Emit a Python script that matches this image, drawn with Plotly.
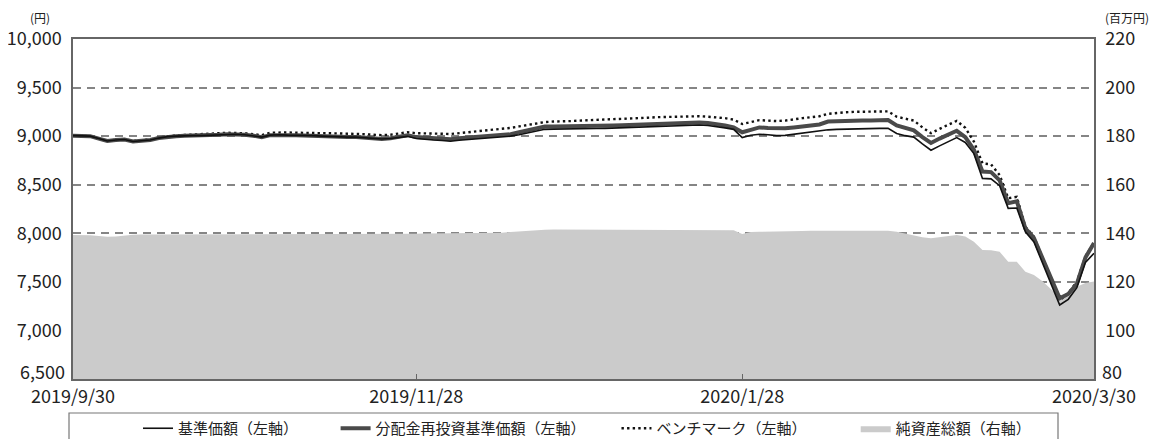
import pandas as pd
import plotly.graph_objects as go

# ---- categories: Japanese business days 2019/9/30 - 2020/3/30 ----
holidays = ["2019-10-14", "2019-10-22", "2019-11-04", "2019-12-31", "2020-01-01",
            "2020-01-02", "2020-01-03", "2020-01-13", "2020-02-11", "2020-02-24", "2020-03-20"]
_days = [d for d in pd.bdate_range("2019-09-30", "2020-03-30") if d.strftime("%Y-%m-%d") not in holidays]
dates = [f"{d.year}/{d.month}/{d.day}" for d in _days]

tick_labels = ["2019/9/30", "2019/11/28", "2020/1/28", "2020/3/30"]
left_ticks = [7000, 7500, 8000, 8500, 9000, 9500, 10000]
right_ticks = [100, 120, 140, 160, 180, 200, 220]

# 基準価額 (left axis, 円)
nav = [9005, 9005, 9000, 8975, 8950, 8960, 8965, 8945, 8950, 8960,
       8980, 8995, 9000, 9005, 9005, 9005, 9010, 9015, 9020, 9020,
       9015, 9005, 8990, 9010, 9015, 9010, 9010, 9005, 9005, 9000,
       8995, 8990, 8990, 8990, 8985, 8975, 8970, 8975, 8990, 8998,
       8975, 8965, 8960, 8955, 8948, 8958, 8965, 8972, 8978, 8985,
       8990, 9000, 9015, 9035, 9055, 9070, 9072, 9072, 9075, 9075,
       9076, 9078, 9080, 9083, 9086, 9090, 9093, 9100, 9103, 9106,
       9110, 9113, 9115, 9115, 9110, 9100, 9085, 9070, 8985, 9010,
       9020, 9015, 9005, 9008, 9020, 9030, 9040, 9050, 9065, 9070,
       9073, 9075, 9078, 9078, 9080, 9080, 9028, 9005, 8990, 8920,
       8855, 8900, 8940, 8985, 8935, 8820, 8565, 8560, 8490, 8257,
       8260, 8015, 7910, 7700, 7480, 7262, 7320, 7440, 7700, 7795]

# 分配金再投資基準価額 (left axis, 円)
nav_reinv = [9005, 9005, 9000, 8975, 8950, 8960, 8965, 8945, 8950, 8960,
             8980, 8995, 9000, 9005, 9005, 9005, 9010, 9015, 9020, 9020,
             9015, 9005, 8990, 9010, 9015, 9010, 9010, 9005, 9005, 9000,
             8995, 8990, 8990, 8990, 8985, 8975, 8970, 8978, 8998, 9010,
             8990, 8985, 8980, 8975, 8968, 8978, 8985, 8990, 8995, 9000,
             9005, 9020, 9040, 9060, 9080, 9100, 9100, 9100, 9100, 9102,
             9102, 9105, 9105, 9110, 9112, 9115, 9118, 9125, 9128, 9132,
             9135, 9138, 9140, 9140, 9135, 9125, 9110, 9090, 9040, 9065,
             9090, 9085, 9080, 9082, 9090, 9100, 9110, 9120, 9150, 9155,
             9158, 9160, 9162, 9162, 9165, 9165, 9110, 9085, 9060, 8990,
             8930, 8975, 9015, 9055, 8990, 8860, 8635, 8630, 8545, 8310,
             8330, 8050, 7950, 7740, 7540, 7330, 7375, 7480, 7750, 7900]

# ベンチマーク (left axis, 円)
benchmark = [9005, 9005, 9000, 8975, 8952, 8962, 8968, 8950, 8955, 8965,
             8985, 9000, 9008, 9012, 9015, 9020, 9025, 9030, 9035, 9035,
             9030, 9020, 9010, 9035, 9040, 9038, 9035, 9035, 9032, 9030,
             9030, 9028, 9025, 9025, 9020, 9015, 9010, 9015, 9030, 9040,
             9030, 9030, 9028, 9025, 9022, 9030, 9040, 9050, 9055, 9062,
             9070, 9085, 9100, 9115, 9130, 9145, 9150, 9150, 9155, 9160,
             9162, 9165, 9170, 9175, 9178, 9180, 9185, 9190, 9195, 9198,
             9200, 9203, 9205, 9205, 9200, 9195, 9185, 9170, 9125, 9145,
             9165, 9160, 9155, 9160, 9175, 9185, 9195, 9205, 9230, 9240,
             9245, 9250, 9252, 9252, 9255, 9255, 9200, 9180, 9160, 9090,
             9030, 9075, 9115, 9158, 9085, 8945, 8720, 8710, 8600, 8360,
             8375, 8068, 7965, 7740, 7530, 7310, 7385, 7500, 7765, 7905]

# 純資産総額 (right axis, 百万円)
net_assets = [139.3, 139.3, 139.2, 138.9, 138.6, 138.7, 139.2, 139.4, 139.5, 139.5,
              139.6, 139.6, 139.6, 139.6, 139.6, 139.6, 139.6, 139.7, 139.7, 139.6,
              139.6, 139.5, 139.5, 139.6, 139.6, 139.6, 139.6, 139.6, 139.6, 139.6,
              139.6, 139.6, 139.6, 139.6, 139.6, 139.6, 139.6, 139.7, 139.8, 139.8,
              139.8, 139.9, 139.9, 139.9, 140.0, 140.0, 140.0, 140.0, 140.0, 140.1,
              140.2, 140.5, 140.8, 141.1, 141.3, 141.5, 141.6, 141.6, 141.6, 141.6,
              141.6, 141.6, 141.6, 141.6, 141.6, 141.6, 141.6, 141.6, 141.6, 141.6,
              141.6, 141.6, 141.6, 141.6, 141.6, 141.6, 141.5, 141.3, 139.7, 140.5,
              140.6, 140.6, 140.6, 140.6, 140.7, 140.9, 141.0, 141.0, 141.0, 141.0,
              141.0, 141.0, 141.0, 141.0, 141.0, 141.0, 140.6, 139.9, 139.0, 138.4,
              138.0, 138.5, 139.0, 139.3, 138.7, 136.5, 133.1, 133.0, 132.4, 128.3,
              128.3, 124.2, 122.8, 120.2, 117.0, 113.9, 115.3, 118.0, 119.5, 120.1]

names = ["基準価額（左軸）", "分配金再投資基準価額（左軸）", "ベンチマーク（左軸）", "純資産総額（右軸）"]

FONT = "Noto Sans CJK JP"
TXT = "#222222"
GRID = "#858585"
FRAME = "#666666"
SP = "\u3000"
NB = "\u00a0"

fig = go.Figure()

# area on base axis (right side) so it is drawn beneath the lines
fig.add_trace(go.Scatter(x=dates, y=net_assets, name=names[3], mode="lines",
                         fill="tozeroy", fillcolor="#cbcbcb", line=dict(width=0, color="#cbcbcb"),
                         yaxis="y"))
fig.add_trace(go.Scatter(x=dates, y=benchmark, name=names[2] + SP * 3 + NB * 2, mode="lines",
                         line=dict(color="#111111", width=2.4, dash="2.4px,3.2px"), yaxis="y2"))
fig.add_trace(go.Scatter(x=dates, y=nav_reinv, name=names[1] + SP * 2 + NB, mode="lines",
                         line=dict(color="#4a4a4a", width=4), yaxis="y2"))
fig.add_trace(go.Scatter(x=dates, y=nav, name=names[0] + SP * 2 + NB * 3, mode="lines",
                         line=dict(color="#111111", width=1.6), yaxis="y2"))

# page is rendered with an 8px body margin: figure is sized to fit the window
OFF = 8
W, H = 1165 - OFF, 439 - OFF
PL, PR, PT, PB = 73, 1094, 39, 379       # plot area in page pixels
L, T = PL - OFF, PT - OFF
R, B = W - (PR - OFF), H - (PB - OFF)
pw, ph = PR - PL, PB - PT

def px_x(p):
    return (p - PL) / pw

def px_y(p):
    return (PB - p) / ph

fig.update_layout(
    width=W, height=H,
    margin=dict(l=L, r=R, t=T, b=B, autoexpand=False),
    paper_bgcolor="white", plot_bgcolor="white",
    font=dict(family=FONT, color=TXT, size=18),
    showlegend=True,
    legend=dict(orientation="h", traceorder="reversed",
                x=px_x(138), xanchor="left", y=px_y(412), yanchor="top",
                font=dict(family=FONT, size=15, color=TXT),
                bgcolor="rgba(0,0,0,0)", borderwidth=0),
    xaxis=dict(type="category", range=[0, len(dates) - 1], automargin=False,
               tickmode="array", tickvals=tick_labels, ticktext=tick_labels,
               ticks="inside", ticklen=5, tickcolor=FRAME, tickwidth=1,
               showgrid=False, showline=True, linecolor=FRAME, linewidth=1.5, mirror=True,
               tickfont=dict(family=FONT, size=18, color=TXT), ticklabelstandoff=1),
    yaxis=dict(side="right", range=[80, 220], tickmode="array", tickvals=right_ticks,
               automargin=False,
               showgrid=True, gridcolor=GRID, gridwidth=1.5, griddash="8px,6px",
               showline=True, linecolor=FRAME, linewidth=1.5, ticks="",
               tickfont=dict(family=FONT, size=18, color=TXT), ticklabelstandoff=6,
               zeroline=False),
    yaxis2=dict(overlaying="y", side="left", range=[6500, 10000], tickmode="array",
                tickvals=left_ticks, automargin=False,
                tickformat=",", showgrid=False,
                showline=True, linecolor=FRAME, linewidth=1.5, ticks="",
                tickfont=dict(family=FONT, size=18, color=TXT), ticklabelstandoff=6,
                zeroline=False),
    annotations=[
        dict(text="(円)", xref="paper", yref="paper", x=px_x(40), y=px_y(OFF),
             xanchor="center", yanchor="top", showarrow=False, borderpad=0,
             font=dict(family=FONT, size=12, color=TXT)),
        dict(text="(百万円)", xref="paper", yref="paper", x=px_x(1127), y=px_y(OFF),
             xanchor="center", yanchor="top", showarrow=False, borderpad=0,
             font=dict(family=FONT, size=12, color=TXT)),
        # bottom tick labels, nudged up as in the reference
        dict(text="6,500", xref="paper", yref="paper", x=px_x(67), y=px_y(371),
             xanchor="right", yanchor="middle", showarrow=False,
             font=dict(family=FONT, size=18, color=TXT)),
        dict(text="80", xref="paper", yref="paper", x=px_x(1100), y=px_y(371),
             xanchor="left", yanchor="middle", showarrow=False,
             font=dict(family=FONT, size=18, color=TXT)),
    ],
    shapes=[
        dict(type="rect", xref="paper", yref="paper",
             x0=px_x(69), x1=px_x(1058), y0=px_y(413), y1=px_y(460),
             line=dict(color="#777777", width=1.2), fillcolor="rgba(0,0,0,0)", layer="above"),
    ],
)

fig.write_html("out.html")
